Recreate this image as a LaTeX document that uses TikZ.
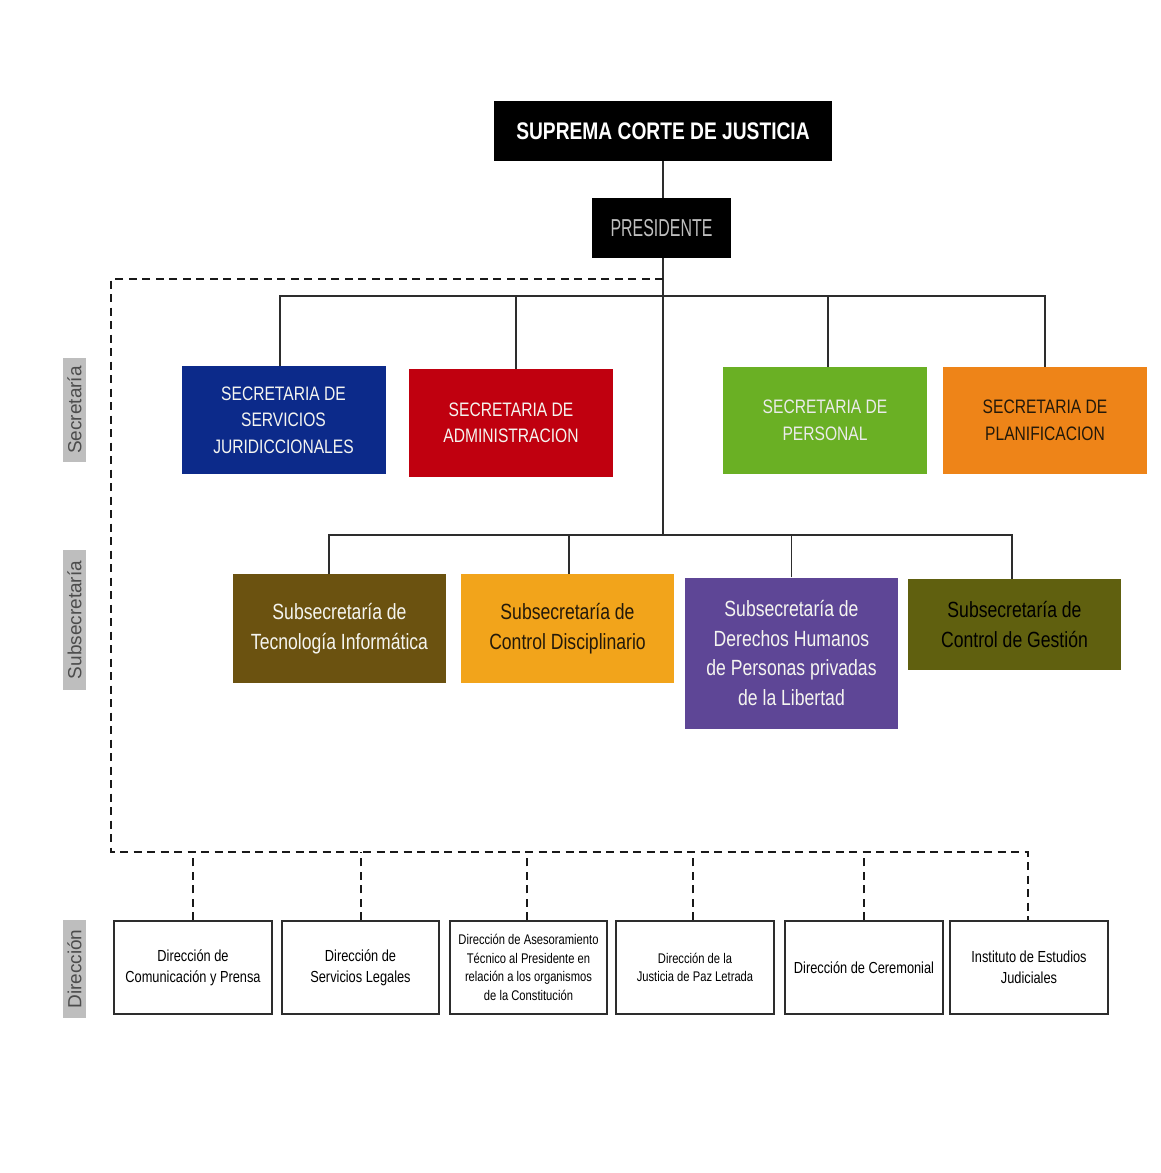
\documentclass[tikz,border=0pt]{standalone}
\usepackage{fontspec}
\setmainfont{Liberation Sans}
\newfontfamily\narrowf{Liberation Sans}[FakeStretch=0.8]
\newfontfamily\narrowerf{Liberation Sans}[FakeStretch=0.65]
\definecolor{cblue}{RGB}{12,42,138}
\definecolor{cred}{RGB}{192,0,15}
\definecolor{cgreen}{RGB}{106,176,36}
\definecolor{corange}{RGB}{238,132,24}
\definecolor{cbrown}{RGB}{107,82,16}
\definecolor{cgold}{RGB}{242,164,27}
\definecolor{cpurple}{RGB}{94,70,150}
\definecolor{colive}{RGB}{96,96,15}
\definecolor{clabel}{RGB}{190,190,190}
\definecolor{cline}{RGB}{45,45,45}
\definecolor{cdark}{RGB}{35,25,10}
\definecolor{clight}{RGB}{245,245,240}
\tikzset{
  box/.style={rectangle, inner sep=0pt, align=center},
  secbox/.style={box, minimum width=204pt, minimum height=108pt, font=\narrowf\fontsize{19.5}{26.5}\selectfont},
  subbox/.style={box, minimum width=213pt, minimum height=109pt, font=\narrowf\fontsize{22}{29.5}\selectfont},
  dirbox/.style={box, draw=cline, line width=1.5pt, fill=white, minimum width=157pt, minimum height=93pt, font=\narrowf\fontsize{16}{21}\selectfont},
  dirsmall/.style={dirbox, font=\narrowf\fontsize{14}{18.7}\selectfont},
  lvl/.style={box, rotate=90, fill=clabel, text=black!70, minimum height=23pt, font=\fontsize{19}{22}\selectfont},
  conn/.style={draw=cline, line width=1.4pt},
  dconn/.style={draw=black!90, line width=2pt, dash pattern=on 8pt off 5.5pt}
}
\begin{document}
\begin{tikzpicture}[x=1pt,y=-1pt]
\useasboundingbox[fill=white] (0,0) rectangle (1161,1173);

% top
\node[box, fill=black, text=white, minimum width=338pt, minimum height=60pt, font=\narrowf\bfseries\fontsize{24}{28}\selectfont] (suprema) at (663,131) {SUPREMA CORTE DE JUSTICIA};
\node[box, fill=black, text=black!25, minimum width=139pt, minimum height=60pt, font=\narrowerf\fontsize{24.5}{28}\selectfont] (pres) at (661.5,228) {PRESIDENTE};

% secretarias
\node[secbox, fill=cblue, text=clight] (blue) at (283.5,420) {SECRETARIA DE\\SERVICIOS\\JURIDICCIONALES};
\node[secbox, fill=cred, text=clight] (red) at (511,423) {SECRETARIA DE\\ADMINISTRACION};
\node[secbox, fill=cgreen, text=black!8, minimum height=107pt] (green) at (825,420.5) {SECRETARIA DE\\PERSONAL};
\node[secbox, fill=corange, text=cdark, minimum height=107pt] (orange) at (1045,420.5) {SECRETARIA DE\\PLANIFICACION};

% subsecretarias
\node[subbox, fill=cbrown, text=clight] (brown) at (339.5,628.5) {Subsecretaría de\\Tecnología Informática};
\node[subbox, fill=cgold, text=cdark] (gold) at (567.5,628.5) {Subsecretaría de\\Control Disciplinario};
\node[subbox, fill=cpurple, text=clight, minimum height=151pt] (purple) at (791.5,653) {Subsecretaría de\\Derechos Humanos\\de Personas privadas\\de la Libertad};
\node[subbox, fill=colive, text=black, minimum height=91pt] (olive) at (1014.5,624.5) {Subsecretaría de\\Control de Gestión};

% direcciones
\node[dirbox, minimum width=158pt] (d1) at (193,967.5) {Dirección de\\Comunicación y Prensa};
\node[dirbox] (d2) at (360.5,967.5) {Dirección de\\Servicios Legales};
\node[dirsmall] (d3) at (528.5,967.5) {Dirección de Asesoramiento\\Técnico al Presidente en\\relación a los organismos\\de la Constitución};
\node[dirsmall, minimum width=158pt] (d4) at (695,967.5) {Dirección de la\\Justicia de Paz Letrada};
\node[dirbox, minimum width=158pt] (d5) at (864,967.5) {Dirección de Ceremonial};
\node[dirbox, minimum width=158pt] (d6) at (1029,967.5) {Instituto de Estudios\\Judiciales};

% level labels
\node[lvl, minimum width=104pt] (lsec) at (74.5,410) {Secretaría};
\node[lvl, minimum width=140pt] (lsub) at (74.5,620) {Subsecretaría};
\node[lvl, minimum width=98pt] (ldir) at (74.5,969) {Dirección};

% coordinates
\coordinate (secbus) at (663,296);
\coordinate (subbus) at (663,535);
\coordinate (dtop) at (663,279);
\coordinate (dcorner) at (111,852);

% solid connectors
\draw[conn] ([xshift=1.5pt]pres.north) -- ([xshift=1.5pt]pres.north |- suprema.south);
\draw[conn] ([xshift=1.5pt]pres.south) -- (subbus);
\draw[conn] ([xshift=-3.5pt]blue.north) |- (secbus) -| (orange.north);
\draw[conn] ([xshift=5pt]red.north) -- ([xshift=5pt]red.north |- secbus);
\draw[conn] ([xshift=3pt]green.north) -- ([xshift=3pt]green.north |- secbus);
\draw[conn] ([xshift=-10.5pt]brown.north) |- (subbus) -| ([xshift=-2.5pt]olive.north);
\draw[conn] ([xshift=1.5pt]gold.north) -- ([xshift=1.5pt]gold.north |- subbus);
\draw[conn] (purple.north) -- (purple.north |- subbus);

% dashed connectors
\draw[dconn] (dtop) -| (dcorner) -| ([xshift=-1pt]d6.north);
\draw[dconn] (d1.north) -- (d1.north |- dcorner);
\draw[dconn] (d2.north) -- (d2.north |- dcorner);
\draw[dconn] ([xshift=-1.5pt]d3.north) -- ([xshift=-1.5pt]d3.north |- dcorner);
\draw[dconn] ([xshift=-2pt]d4.north) -- ([xshift=-2pt]d4.north |- dcorner);
\draw[dconn] (d5.north) -- (d5.north |- dcorner);
\end{tikzpicture}
\end{document}
